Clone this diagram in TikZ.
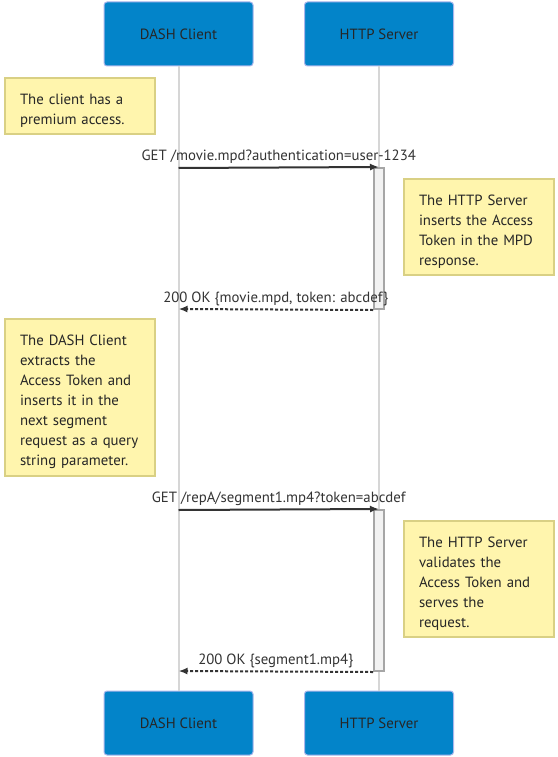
\documentclass[tikz,border=0pt]{standalone}
\usepackage{fontspec}
\setmainfont{PT Sans}
\usetikzlibrary{arrows.meta}
\definecolor{actorblue}{HTML}{0384C9}
\definecolor{actorline}{HTML}{A9B6EC}
\definecolor{notefill}{HTML}{FFF5AD}
\definecolor{noteline}{HTML}{D9D084}
\definecolor{textgray}{HTML}{333333}
\definecolor{lifegray}{HTML}{D6D6D6}
\begin{document}
\begin{tikzpicture}[x=1pt, y=-1pt,
	every node/.style={font=\fontsize{14.8}{20}\selectfont},
	actor/.style={shape=rectangle, rounded corners=3pt, fill=actorblue, draw=actorline, line width=1pt, minimum width=149pt, minimum height=64pt, text=black!85},
	lifeline/.style={draw=lifegray, line width=2pt},
	activation/.style={shape=rectangle, fill=black!5, draw=black!35, line width=2pt, minimum width=10pt, inner sep=0pt},
	msg/.style={draw=textgray, line width=2pt, -{Latex[length=9pt,width=7pt]}},
	reply/.style={draw=textgray, line width=2pt, dash pattern=on 3pt off 2pt, -{Latex[length=9pt,width=7pt]}},
	label/.style={text=textgray, inner sep=0pt},
	note/.style={shape=rectangle, fill=notefill, draw=noteline, line width=2pt, anchor=north west, text width=120pt, align=left, inner xsep=15pt, inner ysep=0pt, text height=19pt, minimum width=150pt, text=black!85}]
	\useasboundingbox (0,0) rectangle (557,757);

	\node[actor] (clientTop) at (178.5,34) {DASH Client};
	\node[actor] (serverTop) at (379,34) {HTTP Server};
	\node[actor] (clientBot) at (178.5,723) {DASH Client};
	\node[actor] (serverBot) at (379,723) {HTTP Server};

	\path [lifeline] (clientTop.south) -- (clientBot.north);
	\path [lifeline] (serverTop.south) -- (serverBot.north);

	\node[activation, minimum height=141pt] (act1) at (379,238.5) {};
	\node[activation, minimum height=161pt] (act2) at (379,590.5) {};

	\coordinate (get1) at (178.5,168);
	\coordinate (ok1) at (178.5,309);
	\coordinate (get2) at (178.5,510);
	\coordinate (ok2) at (178.5,671);

	\path [msg] (get1) -- node[label, above=3pt] {GET /movie.mpd?authentication=user-1234} (act1.north);
	\path [reply] (act1.south west) -- node[label, above=3pt] {200 OK \{movie.mpd, token: abcdef\}} (ok1);
	\path [msg] (get2) -- node[label, above=3pt] {GET /repA/segment1.mp4?token=abcdef} (act2.north);
	\path [reply] (act2.south west) -- node[label, above=3pt] {200 OK \{segment1.mp4\}} (ok2);

	\node[note, minimum height=56pt] (noteClient1) at (4,77) {The client has a\\premium access.};
	\node[note, minimum height=96pt] (noteServer1) at (403,178) {The HTTP Server\\inserts the Access\\Token in the MPD\\response.};
	\node[note, minimum height=157pt] (noteClient2) at (4,318) {The DASH Client\\extracts the\\Access Token and\\inserts it in the\\next segment\\request as a query\\string parameter.};
	\node[note, minimum height=116pt] (noteServer2) at (403,520) {The HTTP Server\\validates the\\Access Token and\\serves the\\request.};
\end{tikzpicture}
\end{document}
